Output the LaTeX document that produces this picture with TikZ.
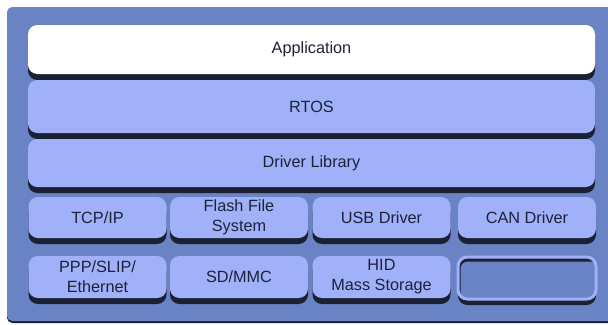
\documentclass[tikz,border=0pt]{standalone}
\usepackage{fontspec}
\usepackage{tikz}
\usetikzlibrary{shadows}
\newfontfamily\layerfont{Liberation Sans}
\definecolor{stackbg}{RGB}{106,131,196}
\definecolor{layerfill}{RGB}{160,177,250}
\definecolor{layershadow}{RGB}{27,32,51}
\definecolor{layertext}{RGB}{30,34,56}
\tikzset{
    layer/.style = {fill=layerfill, rounded corners=7pt, inner sep=0pt, align=center,
        text=layertext, font=\layerfont\fontsize{12.2}{15}\selectfont,
        drop shadow={shadow xshift=0pt, shadow yshift=-4.5pt, fill=layershadow, opacity=1}},
    wide/.style = {layer, minimum width=425.25pt},
    cell/.style = {layer, minimum width=103.5pt},
}
\begin{document}
\begin{tikzpicture}[x=0.75pt, y=-0.75pt]
        \useasboundingbox (0,0) rectangle (608,325);
        \begin{scope}
            \clip (0,0) rectangle (608,325);
            \fill[layershadow, rounded corners=4pt] (7,9) rectangle (630,323);
            \fill[stackbg, rounded corners=4pt] (7,7) rectangle (630,321);
        \end{scope}

        \node[wide, fill=white, minimum height=36.75pt] (app) at (311.5, 49.5) {Application};
        \node[wide, minimum height=39.75pt] (rtos) at (311.5, 106.5) {RTOS};
        \node[wide, minimum height=36pt] (drvlib) at (311.5, 163) {Driver Library};

        \node[cell, minimum height=30.75pt] (tcpip) at (97.5, 217.5) {TCP/IP};
        \node[cell, minimum height=30.75pt] (ffs) at (239, 217.5) {Flash File\\System};
        \node[cell, minimum height=30.75pt] (usb) at (381.5, 217.5) {USB Driver};
        \node[cell, minimum height=30.75pt] (can) at (527, 217.5) {CAN Driver};

        \node[cell, minimum height=31.5pt] (ppp) at (97.5, 277) {PPP/SLIP/\\Ethernet};
        \node[cell, minimum height=31.5pt] (sdmmc) at (239, 277) {SD/MMC};
        \node[cell, minimum height=31.5pt] (hid) at (381.5, 277) {HID\\Mass Storage};
        % empty slot, sunken look
        \node[cell, minimum height=31.5pt, fill=stackbg, draw=layerfill, line width=2.25pt,
            path picture={
                \fill[layershadow] (path picture bounding box.south west) rectangle (path picture bounding box.north east);
                \fill[stackbg, rounded corners=5pt] ([xshift=2pt, yshift=-3.5pt]path picture bounding box.north west)
                    rectangle ([xshift=6pt, yshift=-6pt]path picture bounding box.south east);
            }] (spare) at (527, 278) {};
    \end{tikzpicture}
\end{document}
